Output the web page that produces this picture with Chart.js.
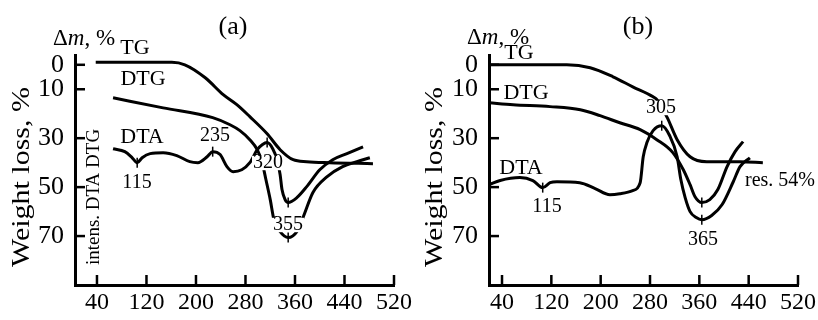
<!DOCTYPE html>
<html>
<head>
<meta charset="utf-8">
<script src="https://cdn.jsdelivr.net/npm/chart.js@4"></script>
<style>
  html, body { margin: 0; padding: 0; background: #fff; }
  #wrap { position: relative; width: 818px; height: 320px; overflow: hidden; }
  .panel { position: absolute; top: 0; height: 320px; }
  #panelA { left: 0; width: 430px; }
  #panelB { left: 409px; width: 409px; }
</style>
</head>
<body>
<div id="wrap">
  <div class="panel" id="panelA"><canvas id="chartA"></canvas></div>
  <div class="panel" id="panelB"><canvas id="chartB"></canvas></div>
</div>
<script>
// Ejes
const xTicks = [40, 120, 200, 280, 360, 440, 520];
const yTicks = [0, 10, 30, 50, 70];

// Panel (a) - temperatura (°C) / pérdida de masa (%)
const tgTempA  = [38, 161, 182, 215, 244, 266, 287, 315, 336, 357, 379, 416, 486];
const tgMassA  = [-1, -1, 0, 5.3, 12.2, 16.3, 21.2, 28.2, 34.7, 38.8, 39.6, 40, 40.4];
const dtgTempA = [66, 147, 227, 255, 271, 287, 299, 307, 313, 320, 326, 336, 349, 363, 373, 389, 412, 437, 460, 481];
const dtgMassA = [13.5, 17.6, 21.6, 24.5, 26.9, 30.6, 34.7, 40.0, 46.9, 55.1, 63.3, 68.2, 70.6, 68.2, 62.4, 52.2, 45.7, 41.6, 39.6, 38.0];
const dtaTempA = [66, 85, 97, 105, 113, 126, 147, 169, 190, 203, 218, 227, 239, 250, 260, 274, 287, 299, 307, 315, 324, 331, 336, 339, 344, 349, 363, 379, 400, 421, 444, 470];
const dtaMassA = [34.3, 35.5, 38.0, 40.0, 38.0, 36.3, 35.9, 37.1, 39.6, 40.0, 37.6, 35.5, 36.7, 41.6, 43.7, 42.9, 40.0, 34.7, 32.7, 31.8, 34.3, 38.8, 44.9, 51.0, 55.1, 56.3, 54.3, 49.8, 42.9, 38.8, 36.3, 33.5];
const peaksA = [[105, 40.0], [227, 35.5], [315, 31.8], [349, 56.3], [349, 70.6]];

// Panel (b)
const tgTempB  = [19, 145, 183, 220, 252, 285, 292, 308, 324, 345, 372, 426, 463];
const tgMassB  = [0, 0, 1.2, 4.9, 9.0, 13.1, 14.5, 21.6, 30.6, 37.6, 39.6, 39.6, 40.0];
const dtgTempB = [19, 58, 118, 167, 199, 231, 264, 291, 317, 334, 345, 353, 364, 377, 390, 405, 418, 431];
const dtgMassB = [15.5, 16.3, 17.1, 18.4, 20.8, 23.7, 26.5, 30.6, 35.9, 42.9, 49.0, 53.9, 56.3, 55.1, 51.0, 41.6, 35.5, 31.4];
const dtaTempB = [19, 37, 69, 90, 106, 118, 129, 166, 191, 215, 231, 252, 264, 269, 275, 285, 299, 312, 324, 330, 337, 345, 355, 364, 380, 397, 415, 426, 442];
const dtaMassB = [49.0, 47.3, 46.1, 47.3, 50.2, 48.2, 47.8, 48.2, 50.6, 53.1, 52.7, 51.4, 48.2, 37.6, 31.8, 26.9, 24.9, 29.0, 37.6, 46.9, 54.3, 60.0, 62.4, 63.3, 61.6, 57.1, 47.8, 41.6, 38.0];
const peaksB = [[106, 50.2], [299, 24.9], [364, 56.3], [364, 63.3]];

Chart.defaults.font.family = '"Liberation Serif", "DejaVu Serif", serif';
Chart.defaults.color = '#000';

const toPoints = (xs, ys) => xs.map((x, i) => ({ x: x, y: ys[i] }));

// Marcas interiores, textos y picos
const inkPlugin = {
  id: 'ink',
  afterDraw(chart, args, opts) {
    const ctx = chart.ctx;
    const xs = chart.scales.x, ys = chart.scales.y;
    const seg = (x1, y1, x2, y2) => { ctx.beginPath(); ctx.moveTo(x1, y1); ctx.lineTo(x2, y2); ctx.stroke(); };
    ctx.save();
    ctx.strokeStyle = '#000';
    ctx.lineWidth = 2.5;
    xs.ticks.forEach(t => {
      const px = xs.getPixelForValue(t.value);
      seg(px, ys.bottom, px, ys.bottom - 10);
    });
    ys.ticks.forEach(t => {
      const py = ys.getPixelForValue(t.value);
      seg(xs.left, py, xs.left + 10, py);
    });

    ctx.fillStyle = '#000';
    ctx.textBaseline = 'middle';
    (opts.labels || []).forEach(l => {
      ctx.font = l.s + 'px "Liberation Serif"';
      const w = ctx.measureText(l.t).width;
      const left = l.align === 'left' ? l.x : l.x - w / 2;
      if (l.bg) {
        ctx.fillStyle = '#fff';
        ctx.fillRect(left - 1, l.y - l.s * 0.36, w + 2, l.s * 0.72);
        ctx.fillStyle = '#000';
      }
      ctx.textAlign = 'left';
      ctx.fillText(l.t, left, l.y);
    });

    ctx.lineWidth = 1.5;
    (opts.peaks || []).forEach(p => {
      const px = xs.getPixelForValue(p[0]);
      const py = ys.getPixelForValue(p[1]);
      seg(px, py - 5, px, py + 5);
    });

    // Δm, %
    const dm = opts.deltaM;
    if (dm) {
      let x = dm.x;
      ctx.textAlign = 'left';
      ctx.font = '23px "Liberation Serif"';
      ctx.fillText('\u0394', x, dm.y); x += ctx.measureText('\u0394').width;
      ctx.font = 'italic 23px "Liberation Serif"';
      ctx.fillText('m', x, dm.y); x += ctx.measureText('m').width;
      ctx.font = '23px "Liberation Serif"';
      ctx.fillText(', %', x, dm.y);
    }

    // textos verticales
    (opts.rotated || []).forEach(r => {
      ctx.save();
      ctx.translate(r.x, r.y);
      ctx.rotate(-Math.PI / 2);
      ctx.scale(r.stretch || 1, 1);
      ctx.textAlign = 'center';
      ctx.font = r.s + 'px "Liberation Serif"';
      ctx.fillText(r.t, 0, 0);
      ctx.restore();
    });
    ctx.restore();
  }
};

function lineSet(data) {
  return {
    data: data,
    borderColor: '#000',
    borderWidth: 3,
    pointRadius: 0,
    fill: false,
    cubicInterpolationMode: 'monotone'
  };
}

function makeChart(id, xMin, yWidth, padRight, datasets, inkOpts) {
  return new Chart(document.getElementById(id), {
    type: 'line',
    data: { datasets: datasets },
    options: {
      responsive: true,
      maintainAspectRatio: false,
      animation: false,
      events: [],
      layout: { padding: { top: 55, right: padRight, left: 0, bottom: 0 } },
      plugins: {
        legend: { display: false },
        tooltip: { enabled: false },
        ink: inkOpts
      },
      scales: {
        x: {
          type: 'linear',
          min: xMin,
          max: 520,
          grid: { display: false, drawTicks: false },
          border: { display: true, color: '#000', width: 3 },
          ticks: { color: '#000', font: { size: 24 }, padding: 3, maxRotation: 0, autoSkip: false },
          afterBuildTicks: s => { s.ticks = xTicks.map(v => ({ value: v })); },
          afterFit: s => { s.height = 35; s.paddingLeft = 0; s.paddingRight = 0; }
        },
        y: {
          type: 'linear',
          reverse: true,
          min: -4,
          max: 90,
          grid: { display: false, drawTicks: false },
          border: { display: true, color: '#000', width: 3 },
          ticks: { color: '#000', font: { size: 26 }, padding: 11, autoSkip: false },
          afterBuildTicks: s => { s.ticks = yTicks.map(v => ({ value: v })); },
          afterFit: s => { s.width = yWidth; s.paddingTop = 0; s.paddingBottom = 0; }
        }
      }
    },
    plugins: [inkPlugin]
  });
}

makeChart('chartA', 4.5, 75, 36, [
  lineSet(toPoints(tgTempA, tgMassA)),
  lineSet(toPoints(dtgTempA, dtgMassA)),
  lineSet(toPoints(dtaTempA, dtaMassA))
], {
  labels: [
    { t: '(a)', x: 233, y: 27, s: 26 },
    { t: 'TG', x: 135, y: 48, s: 22 },
    { t: 'DTG', x: 143, y: 79, s: 22 },
    { t: 'DTA', x: 142, y: 137, s: 22 },
    { t: '235', x: 215, y: 136, s: 20 },
    { t: '115', x: 137, y: 183, s: 20 },
    { t: '320', x: 268, y: 163, s: 20, bg: true },
    { t: '355', x: 288, y: 225, s: 20, bg: true }
  ],
  peaks: peaksA,
  deltaM: { x: 53, y: 39 },
  rotated: [
    { t: 'Weight loss, %', x: 22, y: 177, s: 25, stretch: 1.2 },
    { t: 'intens. DTA DTG', x: 94, y: 197, s: 19 }
  ]
});

makeChart('chartB', 18.9, 80, 20, [
  lineSet(toPoints(tgTempB, tgMassB)),
  lineSet(toPoints(dtgTempB, dtgMassB)),
  lineSet(toPoints(dtaTempB, dtaMassB))
], {
  labels: [
    { t: '(b)', x: 229, y: 27, s: 26 },
    { t: 'TG', x: 110, y: 53, s: 22 },
    { t: 'DTG', x: 117, y: 93, s: 22 },
    { t: '305', x: 252, y: 108, s: 20, bg: true },
    { t: 'DTA', x: 112, y: 168, s: 22 },
    { t: '115', x: 138, y: 207, s: 20 },
    { t: '365', x: 294, y: 240, s: 20 },
    { t: 'res. 54%', x: 336, y: 181, s: 20, align: 'left' }
  ],
  peaks: peaksB,
  deltaM: { x: 58, y: 38 },
  rotated: [
    { t: 'Weight loss, %', x: 26, y: 177, s: 25, stretch: 1.2 }
  ]
});
</script>
</body>
</html>
